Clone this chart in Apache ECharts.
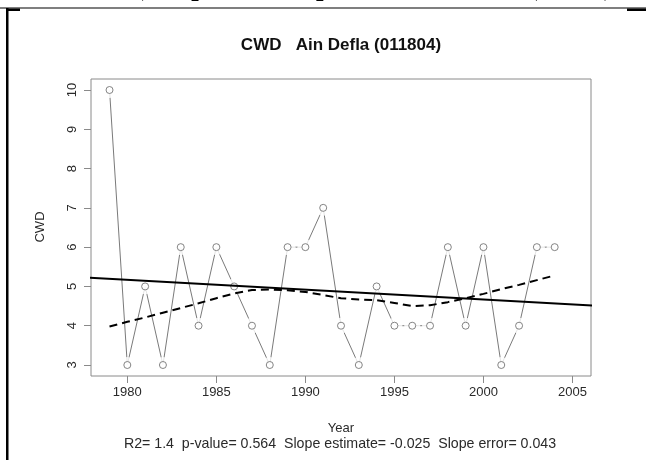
<!DOCTYPE html>
<html>
<head>
<meta charset="utf-8">
<script src="https://cdn.jsdelivr.net/npm/echarts@6/dist/echarts.min.js"></script>
<style>html,body{margin:0;padding:0;background:#fff;}#c{width:646px;height:460px;}</style>
</head>
<body>
<div id="c"></div>
<script>
const years = [1979,1980,1981,1982,1983,1984,1985,1986,1987,1988,1989,1990,1991,1992,1993,1994,1995,1996,1997,1998,1999,2000,2001,2002,2003,2004];
const cwd = [10,3,5,3,6,4,6,5,4,3,6,6,7,4,3,5,4,4,4,6,4,6,3,4,6,6];
const loess = [3.98,4.10,4.21,4.33,4.45,4.57,4.70,4.82,4.91,4.92,4.90,4.86,4.78,4.70,4.67,4.65,4.58,4.50,4.52,4.60,4.70,4.81,4.93,5.04,5.16,5.28];
const trendYears = [1977, 2007];
const trendValues = [5.245, 4.495];
const xTicks = [1980,1985,1990,1995,2000,2005];
const yTicks = [3,4,5,6,7,8,9,10];
const chartTitle = 'CWD   Ain Defla (011804)';
const pageHeading = 'c) Séquences de pluie consécutives (CWD)';
const xName = 'Year';
const yName = 'CWD';
const footer = 'R2= 1.4  p-value= 0.564  Slope estimate= -0.025  Slope error= 0.043';

const pts = years.map((y,i)=>[y,cwd[i]]);
const lo = years.map((y,i)=>[y,loess[i]]);
const tr = trendYears.map((y,i)=>[y,trendValues[i]]);

const chart = echarts.init(document.getElementById('c'), null, {renderer:'canvas'});
const txt = '#2a2a2a';
chart.setOption({
  animation:false,
  backgroundColor:'#fff',
  grid:{left:91, right:55, top:79, bottom:84, show:true, borderColor:'#8a8a8a', borderWidth:1, backgroundColor:'transparent'},
  xAxis:{type:'value', min:1977.96, max:2006.04,
    axisLine:{show:false},
    splitLine:{show:false},
    axisTick:{show:true, customValues:xTicks, length:7, lineStyle:{color:'#8a8a8a'}},
    axisLabel:{customValues:xTicks, fontSize:13, color:txt, margin:10, fontFamily:'Liberation Sans', formatter:v=>String(v)}
  },
  yAxis:{type:'value', min:2.72, max:10.28,
    axisLine:{show:false},
    splitLine:{show:false},
    axisTick:{show:true, customValues:yTicks, length:7, lineStyle:{color:'#8a8a8a'}},
    axisLabel:{customValues:yTicks, fontSize:13, color:txt, margin:12, rotate:90, fontFamily:'Liberation Sans', formatter:v=>String(v)}
  },
  series:[
    {type:'line', data:pts, showSymbol:false, lineStyle:{color:'#7a7a7a', width:1}, z:2, silent:true},
    {type:'scatter', data:pts, symbol:'circle', symbolSize:16, itemStyle:{color:'#fff'}, z:3, silent:true},
    {type:'scatter', data:pts, symbol:'circle', symbolSize:7, itemStyle:{color:'#fff', borderColor:'#666', borderWidth:1}, z:4, silent:true},
    {type:'line', data:tr, showSymbol:false, lineStyle:{color:'#000', width:2}, z:5, clip:true, silent:true},
    {type:'line', data:lo, showSymbol:false, smooth:false, lineStyle:{color:'#000', width:2, type:[8,5]}, z:5, silent:true}
  ],
  graphic:[
    {type:'text', style:{text:pageHeading, x:371, y:-12, align:'center', verticalAlign:'middle', font:'bold 27px "Liberation Serif"', fill:'#000'}},
    {type:'rect', shape:{x:0,y:7.5,width:646,height:1}, style:{fill:'#000'}},
    {type:'rect', shape:{x:6,y:8.5,width:14,height:2.5}, style:{fill:'#000'}},
    {type:'rect', shape:{x:627,y:8.5,width:19,height:2.5}, style:{fill:'#000'}},
    {type:'rect', shape:{x:6,y:8,width:2.5,height:452}, style:{fill:'#000'}},
    {type:'text', style:{text:chartTitle, x:341, y:45, align:'center', verticalAlign:'middle', font:'bold 17px "Liberation Sans"', fill:'#111'}},
    {type:'text', style:{text:xName, x:341, y:428, align:'center', verticalAlign:'middle', font:'13px "Liberation Sans"', fill:txt}},
    {type:'text', style:{text:footer, x:340, y:444, align:'center', verticalAlign:'middle', font:'14.2px "Liberation Sans"', fill:txt}},
    {type:'text', rotation:Math.PI/2, x:40, y:227, style:{text:yName, x:0, y:0, align:'center', verticalAlign:'middle', font:'13px "Liberation Sans"', fill:txt}}
  ]
});
</script>
</body>
</html>
